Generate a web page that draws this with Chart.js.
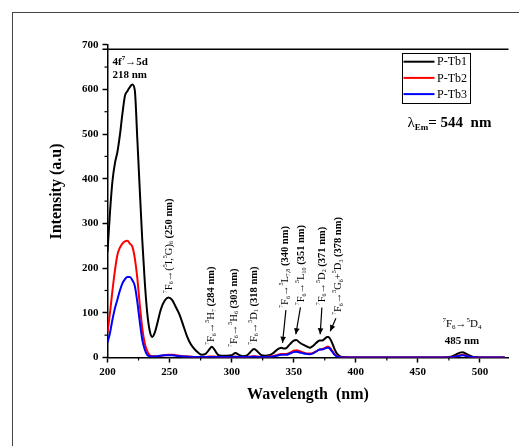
<!DOCTYPE html>
<html><head><meta charset="utf-8">
<script src="https://cdn.jsdelivr.net/npm/chart.js@4.4.1/dist/chart.umd.min.js"></script>
<style>
html,body{margin:0;padding:0;background:#fff;overflow:hidden}
#wrap{position:relative;width:519px;height:446px;overflow:hidden}
#frame{position:absolute;left:12px;top:12px;width:700px;height:700px;border:1px solid #444;box-sizing:border-box}
canvas{position:absolute;left:0;top:0}
</style></head><body>
<div id="wrap"><div id="frame"></div><canvas id="c" width="519" height="446"></canvas></div>
<script>
// ---- data ----
const wavelengths = [200,202,204,206,208,210,212,214,216,218,220,222,224,226,228,230,232,234,236,238,240,243,246,249,252,255,258,261,264,267,270,273,276,279,282,284,286,289,292,296,300,303,306,309,312,315,318,321,324,327,330,333,336,338,340,342,344,347,350,352,355,358,361,363,366,369,371,373,375,377,378,379,381,383,385,387,390,395,400,410,420,430,440,450,460,470,475,478,481,484,486,488,491,494,497,500,505,510,515,520];
const pTb1 = [236,325,395,435,460,498,545,585,596,605,611,598,490,375,263,170,100,60,46,55,75,108,127,134,129,113,96,72,48,30,19,11,6,8,18,24,18,6,4,4,5,10,6,3,4,12,19,13,5,4,5,9,16,20,22,20,21,30,38,39,33,28,24,22,27,35,38,38,42,46,46,43,32,18,8,3,1,0,0,0,0,0,0,0,0,0,1,3,7,11,12,10,5,2,1,0,0,0,0,0];
const pTb2 = [56,100,150,195,230,246,255,260,261,255,248,222,178,118,66,32,14,5,3,3,3,4,5,6,6,5,4,3,2,2,1,1,1,1,2,2,2,1,1,1,1,2,1,1,1,2,3,2,1,1,2,3,5,7,8,8,8,11,15,16,14,11,9,9,11,15,18,19,21,24,24,22,15,7,3,1,0,0,0,0,0,0,0,0,0,0,0,1,3,5,6,5,2,1,0,0,0,0,0,0];
const pTb3 = [33,55,85,110,130,150,166,175,180,180,173,160,125,80,40,18,6,3,2,2,3,4,5,5,5,4,3,2,2,1,1,1,1,1,1,1,1,1,1,1,1,1,1,1,1,1,2,1,1,1,1,2,4,5,6,6,6,9,12,13,11,9,8,7,10,15,18,18,20,22,22,20,13,6,2,1,0,0,0,0,0,0,0,0,0,0,0,1,3,4,5,4,2,1,0,0,0,0,0,0];
const seriesNames = ['P-Tb1','P-Tb2','P-Tb3'];
const seriesColors = ['#000000','#ff0000','#0000ff'];
const xTickValues = [200,250,300,350,400,450,500];
const xMinorValues = [225,275,325,375,425,475];
const yTickValues = [0,100,200,300,400,500,600,700];
const yMinorValues = [50,150,250,350,450,550,650];

// annotation texts: anchor in data units (nm, intensity) of the label's start (bottom)
const bandLabels = [
  {nm:249.4, v:144, t:'^7F_6→(^5I,^5G)_6 ', w:'(250 nm)'},
  {nm:283.6, v:28,  t:'^7F_6→^5H_7 ', w:'(284 nm)'},
  {nm:301.8, v:23.5,t:'^7F_6→^5H_6 ', w:'(303 nm)'},
  {nm:317.9, v:28,  t:'^7F_6→^5D_1 ', w:'(318 nm)'},
  {nm:343.1, v:111, t:'^7F_6→^5L_{7,8} ', w:'(340 nm)'},
  {nm:356.0, v:117, t:'^7F_6→^5L_{10} ', w:'(351 nm)'},
  {nm:372.7, v:117, t:'^7F_6→^5D_2 ', w:'(371 nm)'},
  {nm:386.1, v:95,  t:'^7F_6→^5G_6+^5D_3 ', w:'(378 nm)'}
];
const bandArrows = [
  {fromNm:343.7, fromV:106, toNm:341.0, toV:33},
  {fromNm:355.4, fromV:112, toNm:351.7, toV:52},
  {fromNm:372.7, fromV:112, toNm:371.3, toV:52},
  {fromNm:384.0, fromV:88,  toNm:379.4, toV:59}
];

const SERIF = '"Liberation Serif","Times New Roman",serif';

function parseRich(str, weight){
  const runs=[]; let i=0, buf='';
  const flush=()=>{ if(buf){runs.push({t:buf,w:weight,s:0}); buf='';} };
  while(i<str.length){
    const c=str[i];
    if(c==='^'||c==='_'){
      flush(); let t;
      if(str[i+1]==='{'){ const j=str.indexOf('}',i); t=str.slice(i+2,j); i=j+1; }
      else { t=str[i+1]; i+=2; }
      runs.push({t, w:weight, s:c==='^'?1:-1});
    } else { buf+=c; i++; }
  }
  flush(); return runs;
}
function runsWidth(ctx, runs, size){
  let tot=0;
  for(const r of runs){ ctx.font=`${r.w} ${r.s?Math.round(size*0.6):size}px ${SERIF}`; r.width=ctx.measureText(r.t).width; tot+=r.width; }
  return tot;
}
function drawRuns(ctx, runs, x, y, size, align){
  const tot=runsWidth(ctx, runs, size);
  let cx = align==='center' ? x-tot/2 : x;
  ctx.textAlign='left'; ctx.textBaseline='middle';
  for(const r of runs){
    ctx.font=`${r.w} ${r.s?Math.round(size*0.6):size}px ${SERIF}`;
    const dy = r.s===1 ? -size*0.35 : (r.s===-1 ? size*0.28 : 0);
    ctx.fillText(r.t, cx, y+dy); cx+=r.width;
  }
  return tot;
}
function arrow(ctx,x1,y1,x2,y2){
  ctx.beginPath(); ctx.moveTo(x1,y1); ctx.lineTo(x2,y2); ctx.stroke();
  const ang=Math.atan2(y2-y1,x2-x1), L=6, W=2.8;
  ctx.beginPath();
  ctx.moveTo(x2,y2);
  ctx.lineTo(x2-L*Math.cos(ang)+W*Math.sin(ang), y2-L*Math.sin(ang)-W*Math.cos(ang));
  ctx.lineTo(x2-L*Math.cos(ang)-W*Math.sin(ang), y2-L*Math.sin(ang)+W*Math.cos(ang));
  ctx.closePath(); ctx.fill();
}

const decor = {
  id:'decor',
  afterDraw(chart){
    const {ctx, chartArea:a, scales:{x,y}} = chart;
    ctx.save();
    ctx.fillStyle='#000'; ctx.strokeStyle='#000';
    // minor ticks
    ctx.lineWidth=1.2;
    for(const v of xMinorValues){ const px=x.getPixelForValue(v); ctx.beginPath(); ctx.moveTo(px,a.bottom); ctx.lineTo(px,a.bottom+3); ctx.stroke(); }
    for(const v of yMinorValues){ const py=y.getPixelForValue(v); ctx.beginPath(); ctx.moveTo(a.left-3,py); ctx.lineTo(a.left,py); ctx.stroke(); }
    // top frame line
    ctx.lineWidth=1.5;
    const ty=y.getPixelForValue(690);
    ctx.beginPath(); ctx.moveTo(a.left-5,ty); ctx.lineTo(a.right,ty); ctx.stroke();

    // axis titles
    ctx.textAlign='center'; ctx.textBaseline='middle';
    ctx.font=`bold 16px ${SERIF}`;
    ctx.fillText('Wavelength  (nm)', (a.left+a.right)/2, 395);
    ctx.save(); ctx.translate(56.7, 191.5); ctx.rotate(-Math.PI/2);
    ctx.fillText('Intensity (a.u)', 0, 0); ctx.restore();

    // legend
    ctx.lineWidth=1;
    ctx.strokeRect(402.5,53.5,68,50);
    seriesNames.forEach((n,i)=>{
      const ry=61.7+i*16.2;
      ctx.strokeStyle=seriesColors[i]; ctx.lineWidth=2;
      ctx.beginPath(); ctx.moveTo(403.5,ry); ctx.lineTo(434.5,ry); ctx.stroke();
      ctx.fillStyle='#000'; ctx.font=`12px ${SERIF}`; ctx.textAlign='left'; ctx.textBaseline='middle';
      ctx.fillText(n, 437, ry+0.5);
    });
    ctx.strokeStyle='#000';

    // lambda_Em
    ctx.textAlign='left'; ctx.textBaseline='alphabetic';
    ctx.font=`15px ${SERIF}`; ctx.fillText('λ', 407.5, 126.5);
    let lx=407.5+ctx.measureText('λ').width;
    ctx.font=`bold 9px ${SERIF}`; ctx.fillText('Em', lx, 129.5);
    lx+=ctx.measureText('Em').width;
    ctx.font=`bold 15px ${SERIF}`; ctx.fillText('= 544  nm', lx, 126.5);

    // 4f-5d label
    drawRuns(ctx, parseRich('4f^7→5d','bold'), 112.5, 61.7, 11, 'left');
    drawRuns(ctx, parseRich('218 nm','bold'), 112.5, 75, 11, 'left');

    // 485 nm label
    const px485=x.getPixelForValue(485.5);
    drawRuns(ctx, parseRich('^7F_6→^5D_4','normal'), px485, 324, 11, 'center');
    drawRuns(ctx, parseRich('485 nm','bold'), px485, 340.7, 11, 'center');

    // rotated band labels
    for(const b of bandLabels){
      const px=x.getPixelForValue(b.nm), py=y.getPixelForValue(b.v);
      ctx.save(); ctx.translate(px,py); ctx.rotate(-Math.PI/2);
      const runs=parseRich(b.t,'normal').concat(parseRich(b.w,'bold'));
      drawRuns(ctx, runs, 0, 0, 10.5, 'left');
      ctx.restore();
    }
    // arrows
    ctx.lineWidth=1.2;
    for(const ar of bandArrows){
      arrow(ctx, x.getPixelForValue(ar.fromNm), y.getPixelForValue(ar.fromV), x.getPixelForValue(ar.toNm), y.getPixelForValue(ar.toV));
    }
    ctx.restore();
  }
};

const toXY = arr => wavelengths.map((w,i)=>({x:w, y:arr[i]}));
const seriesData = [pTb1,pTb2,pTb3];
const tickFont = {family:'Liberation Serif', size:11, weight:'bold'};

new Chart(document.getElementById('c'), {
  type:'line',
  data:{ datasets: seriesData.map((d,i)=>({
    label:seriesNames[i], data:toXY(d), borderColor:seriesColors[i], backgroundColor:seriesColors[i],
    borderWidth:2, pointRadius:0, cubicInterpolationMode:'monotone', fill:false, order:2-i
  }))},
  options:{
    responsive:false, animation:false, devicePixelRatio:1,
    layout:{padding:{left:0,right:10.5,top:44.7,bottom:0}},
    plugins:{legend:{display:false}, tooltip:{enabled:false}},
    scales:{
      x:{type:'linear', min:200, max:523,
        afterFit(s){ s.height=88.5; },
        afterBuildTicks(s){ s.ticks=xTickValues.map(v=>({value:v})); },
        ticks:{font:tickFont, color:'#000', padding:3, maxRotation:0, autoSkip:false},
        grid:{drawOnChartArea:false, tickLength:5, tickColor:'#000', tickWidth:1.5},
        border:{color:'#000', width:1.5}
      },
      y:{type:'linear', min:0, max:700,
        afterFit(s){ s.width=107.5; },
        afterBuildTicks(s){ s.ticks=yTickValues.map(v=>({value:v})); },
        ticks:{font:tickFont, color:'#000', padding:4, autoSkip:false},
        grid:{drawOnChartArea:false, tickLength:5, tickColor:'#000', tickWidth:1.5},
        border:{color:'#000', width:1.5}
      }
    }
  },
  plugins:[decor]
});
</script>
</body></html>
